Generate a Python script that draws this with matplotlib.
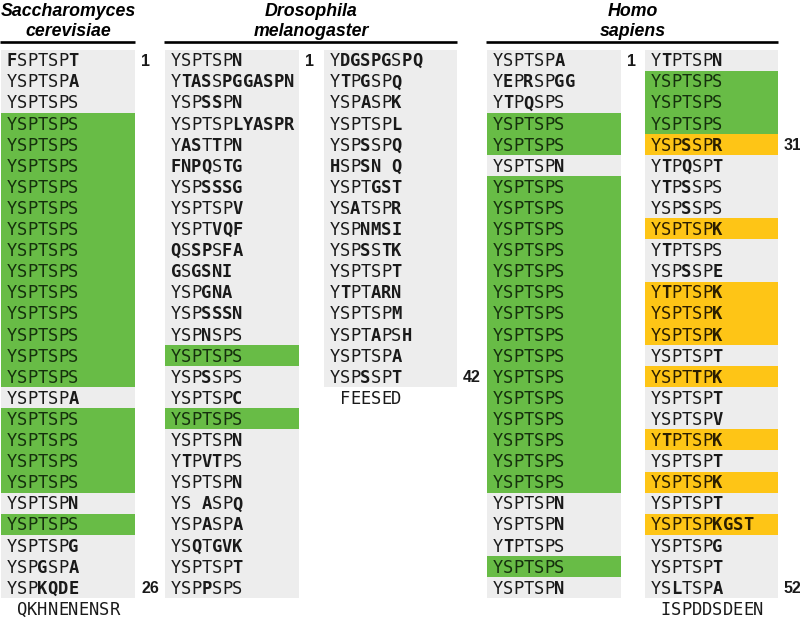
import matplotlib
matplotlib.use("Agg")
import matplotlib.pyplot as plt

# CTD heptad repeats; a lowercase residue is printed bold (departs from YSPTSPS)
# row category: o = other, c = consensus YSPTSPS (green), k = K-heptad (yellow)
yeast_seqs = ["fSPTSPt", "YSPTSPa", "YSPTSPS"] + ["YSPTSPS"] * 13 + [
    "YSPTSPa"] + ["YSPTSPS"] * 4 + ["YSPTSPn", "YSPTSPS", "YSPTSPg", "YSPgSPa", "YSPkqde"]
yeast_cat = "ooo" + "c" * 13 + "o" + "cccc" + "o" + "c" + "ooo"
yeast_tail = "QKHNENENSR"
yeast_marks = [1, 26]

fly_seqs_a = ["YSPTSPn", "YtasSpggaspn", "YSPssPn", "YSPTSPlyaspr", "YasTtPn",
              "fnpqStg", "YSPsssg", "YSPTSPv", "YSPTvqf", "qSspSfa", "gSgsni",
              "YSPgna", "YSPsssn", "YSPnSPS", "YSPTSPS", "YSPsSPS", "YSPTSPc",
              "YSPTSPS", "YSPTSPn", "YtPvtPS", "YSPTSPn", "YS aSPq", "YSPaSPa",
              "YSqTgvk", "YSPTSPt", "YSPpSPS"]
fly_cat_a = "o" * 14 + "c" + "oo" + "c" + "o" * 8
fly_seqs_b = ["YdgspgSpq", "YtPgSPq", "YSPaSPk", "YSPTSPl", "YSPsSPq", "hSPsn q",
              "YSPTgst", "YSaTSPr", "YSPnmsi", "YSPsStk", "YSPTSPt", "YtPTarn",
              "YSPTSPm", "YSPTaPSh", "YSPTSPa", "YSPsSPt"]
fly_cat_b = "o" * 16
fly_tail = "FEESED"
fly_marks_a = [1]
fly_marks_b = [42]

human_seqs_a = ["YSPTSPa", "YePrSPgg", "YtPqSPS", "YSPTSPS", "YSPTSPS", "YSPTSPn"] + [
    "YSPTSPS"] * 15 + ["YSPTSPn", "YSPTSPn", "YtPTSPS", "YSPTSPS", "YSPTSPn"]
human_cat_a = "ooo" + "cc" + "o" + "c" * 15 + "ooo" + "c" + "o"
human_seqs_b = ["YtPTSPn", "YSPTSPS", "YSPTSPS", "YSPTSPS", "YSPsSPr", "YtPqSPt",
                "YtPsSPS", "YSPsSPS", "YSPTSPk", "YtPTSPS", "YSPsSPe", "YtPTSPk",
                "YSPTSPk", "YSPTSPk", "YSPTSPt", "YSPTtPk", "YSPTSPt", "YSPTSPv",
                "YtPTSPk", "YSPTSPt", "YSPTSPk", "YSPTSPt", "YSPTSPkgst", "YSPTSPg",
                "YSPTSPt", "YSlTSPa"]
human_cat_b = "o" + "ccc" + "k" + "ooo" + "k" + "oo" + "kkk" + "o" + "k" + "oo" + "k" + "o" + "k" + "o" + "k" + "ooo"
human_tail = "ISPDDSDEEN"
human_marks_a = [1]
human_marks_b = [31, 52]

W, H, DPI = 800, 618, 100
ROW_TOP, ROW_H, N_ROWS = 49.5, 21.1, 26
MONO = "DejaVu Sans Mono"
SANS = "Liberation Sans"
SEQ_FS = 12.3
CHAR_W = SEQ_FS * DPI / 72 * 0.602
PAD = 5.5
BASE = 6.2 / ROW_H  # baseline below row centre, in rows

fill = {"o": "#ededed", "c": "#68bc46", "k": "#fec516"}
ink = {"o": "#1a1a1a", "c": "#15300d", "k": "#2b1e00"}

fig = plt.figure(figsize=(W / DPI, H / DPI), dpi=DPI)


def draw_seq(ax, row, seq, color):
    for k, ch in enumerate(seq):
        if ch == " ":
            continue
        ax.text(PAD + (k + 0.5) * CHAR_W, row + 0.5 + BASE, ch.upper(), family=MONO,
                fontsize=SEQ_FS, weight="bold" if ch.islower() else "normal",
                color=color, ha="center", va="baseline", clip_on=False)


def column(x0, x1, seqs, cats, start, marks, tail=None):
    ax = fig.add_axes([x0 / W, 1 - (ROW_TOP + N_ROWS * ROW_H) / H,
                       (x1 - x0) / W, N_ROWS * ROW_H / H])
    ax.set_xlim(0, x1 - x0)
    ax.set_ylim(N_ROWS, 0)
    ax.axis("off")
    rows = list(range(len(seqs)))
    ax.barh([r + 0.5 for r in rows], x1 - x0, height=1.0, left=0,
            color=[fill[c] for c in cats], linewidth=0)
    for r, s, c in zip(rows, seqs, cats):
        draw_seq(ax, r, s, ink[c])
    for m in marks:
        r = m - start
        ax.text(x1 - x0 + 6, r + 0.5 + 5.8 / ROW_H, str(m), family=SANS, weight="bold",
                fontsize=11.5, color="#1a1a1a", ha="left", va="baseline", clip_on=False)
    if tail:
        draw_seq(ax, len(seqs), " " + tail.upper(), "#1a1a1a")
    return ax


column(1, 135, yeast_seqs, yeast_cat, 1, yeast_marks, yeast_tail)
column(165, 299, fly_seqs_a, fly_cat_a, 1, fly_marks_a)
column(324, 457, fly_seqs_b, fly_cat_b, 27, fly_marks_b, fly_tail)
column(487, 621, human_seqs_a, human_cat_a, 1, human_marks_a)
column(645, 778, human_seqs_b, human_cat_b, 27, human_marks_b, human_tail)

# species headers
top = fig.add_axes([0, 0, 1, 1])
top.set_xlim(0, W)
top.set_ylim(H, 0)
top.axis("off")
headers = [("Saccharomyces", "cerevisiae", 1, 135),
           ("Drosophila", "melanogaster", 165, 457),
           ("Homo", "sapiens", 487, 778)]
for l1, l2, a, b in headers:
    xc = (a + b) / 2
    top.text(xc, 12, l1, family=SANS, weight="bold", style="italic", fontsize=12.8,
             ha="center", va="center")
    top.text(xc, 31, l2, family=SANS, weight="bold", style="italic", fontsize=12.8,
             ha="center", va="center")
    top.plot([a - 1, b], [41.5, 41.5], color="black", lw=1.9, solid_capstyle="butt")

fig.savefig("out.png", dpi=DPI)
